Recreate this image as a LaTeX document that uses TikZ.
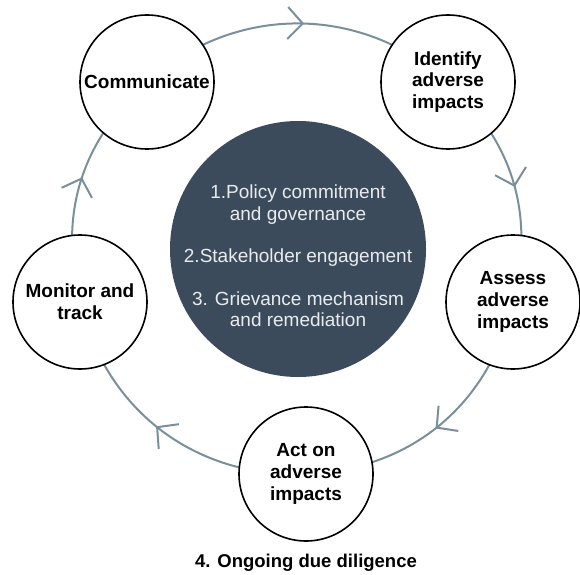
\documentclass[tikz,border=0pt]{standalone}
\usepackage{fontspec}
\setmainfont{Liberation Sans}
\usetikzlibrary{arrows.meta,decorations.markings,backgrounds}

\begin{document}
\begin{tikzpicture}[x=1pt,y=1pt,
  stage/.style={circle,draw=black,line width=1.6pt,fill=white,minimum size=134pt,inner sep=0pt,align=center,font=\fontsize{19}{21.6}\selectfont\bfseries},
  ring/.style={draw=ringgray,line width=2pt,postaction={decorate},decoration={markings,mark=at position .52 with {\arrow{Straight Barb[length=15pt,width=32pt,line width=2pt]}}}}]
\definecolor{ringgray}{RGB}{122,143,156}
\definecolor{coreslate}{RGB}{60,75,92}
\definecolor{corefont}{RGB}{232,236,239}
\useasboundingbox (0,0) rectangle (580,574);
\node[circle,fill=coreslate,minimum size=256pt,inner sep=0pt] (core) at (298,325) {};
\node[align=center,text=corefont,font=\fontsize{19}{21.3}\selectfont] (pillars) at (298,318) {1.Policy commitment\\and governance\\[21.3pt]2.Stakeholder engagement\\[21.3pt]3. Grievance mechanism\\and remediation};
\node[stage] (comm) at (147,492) {Communicate};
\node[stage] (ident) at (448,492) {Identify\\adverse\\impacts};
\node[stage] (assess) at (513,272) {Assess\\adverse\\impacts};
\node[stage] (act) at (306,100) {Act on\\adverse\\impacts};
\node[stage] (monitor) at (80,272) {Monitor and\\track};
\node[font=\fontsize{18.5}{21.5}\selectfont\bfseries] (cycle) at (306,11) {4. Ongoing due diligence};
\begin{scope}[on background layer]
\draw[ring] (comm.center) to[bend left=41.7] (ident.center);
\draw[ring] (ident.center) to[bend left=30.75] (assess.center);
\draw[ring] (assess.center) to[bend left=37.3] (act.center);
\draw[ring] (act.center) to[bend left=39.5] (monitor.center);
\draw[ring] (monitor.center) to[bend left=30.75] (comm.center);
\end{scope}
\end{tikzpicture}
\end{document}
